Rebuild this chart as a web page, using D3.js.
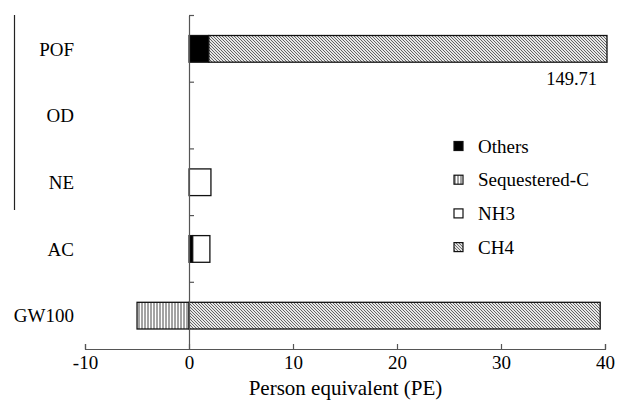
<!DOCTYPE html>
<html>
<head>
<meta charset="utf-8">
<script src="https://cdn.jsdelivr.net/npm/d3@7"></script>
</head>
<body style="margin:0">
<svg id="chart" width="617" height="407" font-family="Liberation Serif">
<text x="345.5" y="395" text-anchor="middle" font-family="Liberation Serif" font-size="21">Person equivalent (PE)</text>
</svg>
<script>
const categories = ['POF', 'OD', 'NE', 'AC', 'GW100']
const seriesNames = ['Others', 'Sequestered-C', 'NH3', 'CH4']
const others = [1.9, 0, 0, 0.35, 0]
const sequestered = [0, 0, 0, 0, -5.0]
const nh3 = [0, 0, 2.1, 1.65, 0]
const ch4 = [147.81, 0, 0, 0, 39.5]
const xTicks = [-10, 0, 10, 20, 30, 40]
const pofTotal = '149.71'

const FONT = 'Liberation Serif'
const svg = d3.select('#chart')

const defs = svg.append('defs')
// diagonal hatch for CH4
const diag = defs.append('pattern')
    .attr('id', 'hatch-diag')
    .attr('patternUnits', 'userSpaceOnUse')
    .attr('width', 3).attr('height', 3)
diag.append('rect').attr('width', 3).attr('height', 3).attr('fill', '#e8e8e8')
diag.append('path')
    .attr('d', 'M-1,-1 L4,4 M-1,2 L1,4 M2,-1 L4,1')
    .attr('stroke', '#555').attr('stroke-width', 0.9)
// vertical hatch for Sequestered-C
const vert = defs.append('pattern')
    .attr('id', 'hatch-vert')
    .attr('patternUnits', 'userSpaceOnUse')
    .attr('width', 3).attr('height', 3)
vert.append('rect').attr('width', 3).attr('height', 3).attr('fill', '#fff')
vert.append('path').attr('d', 'M1,0 L1,3').attr('stroke', '#333').attr('stroke-width', 0.9)

const fills = { 'Others': '#000', 'Sequestered-C': 'url(#hatch-vert)', 'NH3': '#fff', 'CH4': 'url(#hatch-diag)' }

const xScale = d3.scaleLinear().domain([-10, 40]).range([85, 605])
// clamped copy so POF runs off the right edge like the original
const xClamp = xScale.copy().range([85, 607]).domain([-10, 40 * 522 / 520]).clamp(true)
const yScale = d3.scaleBand().domain(categories).range([15.5, 349]).paddingInner(0.6).paddingOuter(0.3)
const yStep = d3.scaleBand().domain(categories).range([15.5, 349])

// table for stack
const table = categories.map((c, i) => ({
    cat: c,
    'Others': others[i],
    'Sequestered-C': sequestered[i],
    'NH3': nh3[i],
    'CH4': ch4[i]
}))
const stacked = d3.stack()
    .keys(seriesNames)
    .offset(d3.stackOffsetDiverging)(table)

// stray left border line in the scan
svg.append('path')
    .attr('d', d3.line()([[14.5, 15], [14.5, 210]]))
    .attr('stroke', '#222').attr('stroke-width', 1.2)

const bars = svg.append('g')
stacked.forEach(s => {
    bars.append('g').selectAll('rect')
        .data(s.filter(d => d[1] - d[0] !== 0))
        .enter()
        .append('rect')
        .attr('x', d => xClamp(Math.min(d[0], d[1])))
        .attr('y', d => yScale(d.data.cat))
        .attr('width', d => Math.abs(xClamp(d[1]) - xClamp(d[0])))
        .attr('height', yScale.bandwidth())
        .attr('fill', fills[s.key])
        .attr('stroke', '#111')
        .attr('stroke-width', 1.3)
})

const txt = (sel, size) => sel
    .attr('font-family', FONT)
    .attr('font-size', size)

// POF value label
svg.append('text')
    .attr('x', 597).attr('y', yScale('POF') + yScale.bandwidth() + 23)
    .attr('text-anchor', 'end')
    .call(txt, 18.5)
    .text(pofTotal)

// x axis
const xAxis = svg.append('g')
    .attr('transform', 'translate(0, 349)')
    .call(d3.axisBottom(xScale).tickValues(xTicks).tickSize(-5).tickPadding(10).tickFormat(d => String(d)))
xAxis.attr('font-family', FONT).attr('font-size', 19)
xAxis.select('.domain').attr('stroke', '#555').attr('stroke-width', 1.2)
xAxis.selectAll('.tick line').attr('stroke', '#555').attr('stroke-width', 1.2)
xAxis.selectAll('.tick text')
    .call(txt, 19)
    .attr('dy', '0.55em')

// y axis at zero with ticks at band edges
const yAxis = svg.append('g')
    .attr('transform', `translate(${xScale(0)}, 0)`)
    .call(d3.axisRight(yStep.copy().range([15.5, 349])).tickSize(0).tickFormat(''))
yAxis.select('.domain').attr('stroke', '#555').attr('stroke-width', 1.2)
yAxis.selectAll('.tick').remove()
yAxis.selectAll('.ytick')
    .data(categories)
    .enter()
    .append('path')
    .attr('class', 'ytick')
    .attr('d', d => `M0,${yStep(d)}H5`)
    .attr('stroke', '#555').attr('stroke-width', 1.2)

svg.append('g').selectAll('text')
    .data(categories)
    .enter()
    .append('text')
    .attr('x', 74)
    .attr('y', d => yStep(d) + yStep.bandwidth() / 2)
    .attr('dy', '0.35em')
    .attr('text-anchor', 'end')
    .call(txt, 19)
    .text(d => d)

// legend
const legend = svg.append('g').attr('transform', 'translate(454, 146)')
const legendItem = legend.selectAll('g')
    .data(seriesNames)
    .enter()
    .append('g')
    .attr('transform', (d, i) => `translate(0, ${i * 33.7})`)
legendItem.append('rect')
    .attr('x', 0).attr('y', -4.5)
    .attr('width', 9).attr('height', 9)
    .attr('fill', d => fills[d])
    .attr('stroke', '#111').attr('stroke-width', 1.2)
legendItem.append('text')
    .attr('x', 24).attr('y', 0).attr('dy', '0.35em')
    .call(txt, 19)
    .text(d => d)
</script>
</body>
</html>
